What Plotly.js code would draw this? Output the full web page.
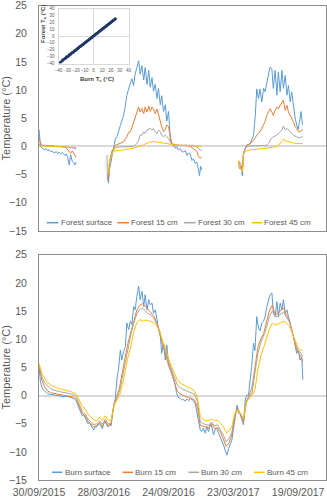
<!DOCTYPE html>
<html><head><meta charset="utf-8">
<script src="https://cdn.plot.ly/plotly-3.0.1.min.js"></script>
<style>html,body{margin:0;padding:0;background:#fff}#chart{width:327px;height:500px}</style>
</head><body><div id="chart"></div>
<script>
// ---------- DATA (days since 30/09/2015) ----------
const tickDates = ['2015-09-30','2016-03-28','2016-09-24','2017-03-23','2017-09-19'];
const tickLabels = ['30/09/2015','28/03/2016','24/09/2016','23/03/2017','19/09/2017'];

// Forest (top panel); null = logger gap
const forestSurfaceDays = [0,2,4,8,12,16,20,24,28,32,36,40,44,48,52,56,60,64,68,72,76,80,84,88,92,96,100,103,150,
 190,193,196,199,203,207,212,217,221,226,230,235,240,244,249,254,258,263,267,272,277,281,286,291,295,300,305,309,314,318,323,328,332,337,341,346,351,355,360,365,369,374,378,383,387,392,397,402,406,411,415,420,425,429,434,439,443,446,449,452,500,
 554,558,561,565,568,572,577,582,587,591,596,601,605,610,614,619,624,628,633,638,642,647,651,656,661,665,670,675,679,684,689,693,698,702,707,712,716,720,724,728,732];
const forestSurfaceVals = [3.0,1.0,0.0,-0.3,-0.4,-0.6,-0.4,-0.7,-0.6,-0.9,-0.8,-1.1,-1.1,-0.9,-1.3,-1.0,-1.3,-1.1,-1.3,-1.6,-1.3,-2.0,-3.3,-1.5,-2.6,-2.8,-3.3,-2.8,null,
 -5.0,-6.5,-4.0,-3.0,-1.0,0.2,1.3,1.8,2.5,3.7,4.5,5.5,7.3,9.0,10.2,11.0,12.0,10.8,12.8,14.0,15.2,12.8,14.3,11.8,14.0,11.0,13.5,10.5,12.2,9.8,11.0,8.5,10.3,7.4,9.0,6.2,7.4,4.5,6.2,1.3,0.5,0.2,-0.3,-0.1,-0.6,-0.4,-0.9,-1.0,-0.7,-1.6,-1.2,-1.3,-2.5,-2.2,-3.0,-2.8,-4.0,-5.2,-3.5,-4.2,null,
 -3.0,-4.0,-3.5,-5.2,-1.5,-0.5,0.2,0.3,0.5,1.2,2.0,5.5,10.2,8.5,10.2,7.9,10.3,9.7,11.4,13.2,14.1,13.8,10.3,13.5,9.1,13.2,9.7,13.5,10.3,12.6,9.1,10.8,7.9,9.7,6.7,4.9,3.8,3.0,4.5,6.2,3.8];

const forest15Days = [0,3,6,12,30,60,72,76,80,84,88,92,96,100,103,150,
 190,193,196,203,212,226,235,244,249,254,258,263,267,272,277,281,286,291,295,300,305,309,314,318,323,328,332,337,341,346,351,355,360,365,369,378,392,411,420,429,439,443,448,452,500,
 554,558,561,565,568,572,577,587,596,605,614,619,624,628,633,638,642,647,651,656,661,665,670,675,679,684,689,693,698,702,707,712,716,721,725,730,733];
const forest15Vals = [1.5,0.8,0.3,0.2,0.1,0.0,-0.1,-0.3,-0.6,-0.9,-1.2,-0.8,-1.2,-1.8,-1.9,null,
 -5.5,-5.8,-3.0,-1.0,0.2,0.5,0.8,1.7,2.5,2.6,3.4,4.3,5.2,6.1,7.0,6.1,6.7,5.8,7.0,6.1,7.2,6.2,7.0,6.6,5.8,6.6,5.5,4.3,3.5,2.6,3.0,3.8,3.5,1.7,0.5,0.3,0.2,0.2,0.0,-0.4,-0.9,-1.8,-2.1,-1.8,null,
 -2.5,-3.0,-3.2,-4.3,-1.5,-0.5,0.2,0.5,1.1,2.0,2.6,3.2,3.8,4.4,5.5,6.1,6.7,6.1,5.5,6.4,7.0,6.7,7.3,7.9,8.2,6.4,7.3,6.1,5.5,4.9,4.35,3.5,3.2,2.6,2.6,2.9,2.9];

const forest30Days = [0,4,20,60,80,95,103,150,
 189,190,193,196,203,217,263,272,277,281,286,291,295,300,309,314,318,323,328,332,337,341,346,351,355,360,365,369,383,430,439,448,452,500,
 554,558,565,568,572,577,587,633,638,642,647,651,661,670,675,679,684,689,698,707,716,725,733];
const forest30Vals = [0.5,0.2,0.1,0.0,-0.1,-0.3,-0.4,null,
 -1.5,-6.0,-5.0,-2.5,-0.7,-0.1,0.0,0.5,1.1,2.0,2.0,2.6,2.3,2.9,3.2,2.9,3.2,2.6,2.3,2.9,2.6,2.0,1.7,2.0,1.7,1.4,0.8,0.3,0.2,0.2,-0.1,-0.7,-0.6,null,
 -2.8,-3.5,-4.2,-1.2,-0.5,0.0,0.1,0.2,0.5,1.1,1.5,1.7,2.0,2.6,2.9,3.6,2.9,3.2,2.6,2.0,1.7,1.5,1.8];

const forest45Days = [0,4,40,80,103,150,
 190,193,196,203,207,226,263,291,305,318,328,337,346,365,383,430,452,500,
 554,558,565,568,572,587,633,661,670,679,684,693,702,716,733];
const forest45Vals = [0.2,0.1,0.0,-0.1,-0.2,null,
 -4.5,-4.8,-2.5,-1.2,-0.8,-0.7,-0.3,0.3,0.7,0.9,0.8,0.7,0.5,0.3,0.2,0.1,0.0,null,
 -2.8,-3.8,-4.5,-1.2,-0.9,-0.6,-0.3,0.0,0.5,1.3,1.0,0.9,0.7,0.5,0.5];

// Burn (bottom panel)
const burnSurfaceDays = [0,4,8,12,16,20,24,32,40,48,56,64,72,80,88,96,104,108,112,116,120,124,128,132,136,140,144,148,152,156,160,164,168,172,176,180,184,188,192,196,200,204,208,212,
 217,221,226,230,235,240,244,249,254,258,263,267,272,277,281,286,291,295,300,305,309,314,318,323,328,332,337,341,346,351,355,360,365,369,374,378,382,386,
 392,397,402,406,411,416,420,425,429,434,439,443,448,452,457,462,466,471,476,480,485,489,494,499,503,508,513,517,522,527,531,536,540,545,550,554,559,564,568,573,577,582,
 587,591,596,600,605,610,614,619,624,628,633,638,642,647,651,656,661,665,670,675,679,684,689,693,698,702,707,712,716,721,725,730,733];
const burnSurfaceVals = [5.0,2.5,1.5,1.0,0.8,0.5,0.3,0.2,0.1,0.0,-0.1,-0.1,-0.2,-0.2,-0.3,-0.5,-1.0,-1.8,-2.6,-3.0,-3.6,-3.4,-3.9,-4.6,-5.0,-4.8,-5.3,-5.6,-6.1,-5.6,-5.6,-5.2,-5.0,-5.4,-5.9,-5.0,-4.6,-5.2,-5.6,-5.0,-5.4,-3.5,-1.5,-0.5,
 3.1,4.6,8.1,6.3,7.8,8.7,12.9,11.7,13.2,12.6,15.8,15.2,17.6,19.4,17.0,18.5,15.8,17.9,15.2,17.0,16.1,16.4,14.6,15.2,13.5,11.7,10.5,7.5,9.3,6.3,9.0,5.7,4.6,3.7,3.0,2.0,0.5,-0.3,
 -0.5,-0.8,-0.7,-1.0,-0.6,-0.9,-0.5,-0.8,-0.9,-1.4,-3.1,-4.9,-6.1,-6.4,-5.8,-6.7,-5.5,-6.4,-4.9,-5.5,-7.0,-6.1,-5.8,-6.7,-7.3,-7.9,-8.8,-9.7,-10.6,-9.4,-8.8,-7.9,-6.1,-3.7,-1.7,-3.1,-3.4,-4.3,-5.2,-0.8,0.0,0.1,
 2.8,5.2,9.3,8.0,14.0,12.0,11.5,12.9,13.2,14.0,15.8,17.0,17.9,18.2,14.9,14.0,16.7,14.0,16.4,15.2,17.0,14.6,15.2,14.0,12.9,12.0,10.5,8.7,7.5,8.1,6.3,6.9,2.8];

const burnDays = [0,8,16,24,32,40,48,56,64,72,80,88,96,104,112,120,128,136,144,152,160,168,176,184,192,200,208,216,224,232,240,248,256,264,272,280,288,296,304,312,320,328,336,344,352,360,368,376,384,392,400,408,416,424,432,440,448,456,464,472,480,488,496,504,512,520,528,536,544,552,560,568,576,584,592,600,608,616,624,632,640,648,656,664,672,680,688,696,704,712,720,728,732];
const burn15Vals = [5.3,2.7,1.5,0.8,0.5,0.4,0.3,0.2,0.1,0.0,-0.1,-0.2,-0.3,-0.7,-2.0,-3.2,-3.5,-4.6,-5.0,-5.6,-5.3,-4.8,-5.5,-4.5,-5.4,-5.2,-1.5,-0.3,1.5,4.5,7.0,9.5,11.5,13.5,15.2,16.0,16.3,15.8,15.2,14.8,14.0,12.8,11.2,8.8,7.3,5.3,4.2,2.5,0.8,0.3,0.0,-0.2,-0.4,-0.5,-0.8,-2.0,-5.3,-5.4,-5.6,-5.8,-5.0,-5.9,-5.7,-6.5,-7.8,-9.0,-8.4,-7.0,-3.6,-2.3,-3.3,-4.8,-1.0,0.0,1.5,5.5,8.5,10.0,11.0,13.0,15.0,16.0,14.5,14.5,15.2,15.5,14.2,13.3,11.0,9.0,7.5,7.0,6.0];
const burn30Vals = [5.5,3.3,2.2,1.6,1.2,1.0,0.8,0.7,0.6,0.5,0.4,0.3,0.2,-0.3,-1.5,-2.8,-3.2,-4.2,-4.6,-5.2,-5.0,-4.5,-5.1,-4.2,-5.0,-4.9,-1.6,-0.6,0.8,3.5,6.3,8.8,11.0,13.0,14.5,15.3,15.5,15.0,14.5,14.2,13.6,12.6,11.3,9.2,7.8,6.0,4.8,3.3,1.9,1.4,1.1,0.9,0.7,0.5,0.2,-1.0,-4.6,-5.0,-5.1,-5.3,-4.7,-5.4,-5.2,-6.0,-7.0,-8.2,-7.6,-6.5,-3.4,-2.4,-3.3,-4.5,-1.2,-0.3,0.5,4.0,7.5,9.3,10.5,12.0,14.0,15.0,14.0,14.0,14.5,14.8,13.8,13.0,11.2,9.3,8.0,7.5,7.0];
const burn45Vals = [5.7,3.9,3.0,2.3,1.9,1.6,1.4,1.2,1.1,1.0,0.9,0.7,0.5,0.2,-0.8,-2.0,-2.3,-3.3,-3.8,-4.3,-4.5,-3.8,-4.4,-3.6,-4.3,-4.5,-1.8,-1.0,0.0,2.0,4.8,7.0,9.0,11.5,12.9,13.5,13.2,13.4,13.3,13.1,12.9,12.3,11.2,9.6,8.3,6.5,5.2,4.0,2.8,2.2,1.9,1.6,1.4,1.2,0.8,-0.3,-3.7,-4.2,-4.5,-4.4,-4.2,-4.5,-4.4,-4.9,-5.5,-6.6,-6.3,-5.5,-3.2,-2.5,-3.2,-4.0,-1.3,-0.5,0.0,1.0,4.5,7.0,8.5,10.0,11.8,12.8,12.5,12.7,13.0,13.2,12.8,12.3,11.0,9.7,8.5,8.0,8.0];

// Inset: Burn Ts vs Forest Ts (°C)
const insetBurnTs = [-38,-36,-35,-33,-32,-31,-30,-29,-28,-27,-26,-25,-24,-23,-22,-21,-20,-19,-18,-17,-16,-15,-14,-13,-12,-11,-10,-9,-8,-7,-6,-5,-4,-3,-2,-1,0,1,2,3,4,5,6,7,8,9,10,11,12,13,14,15,16,17,18,19,20,21,22,23,24,25];
const insetForestTs = [-38.5,-36.4,-34.6,-33.2,-32.4,-30.6,-30.2,-29.3,-27.7,-27.2,-26.3,-24.8,-24.1,-23.3,-21.8,-21.2,-20.3,-18.9,-18.2,-17.1,-15.8,-15.2,-14.1,-12.9,-12.2,-11.1,-9.9,-9.2,-8.1,-6.9,-6.1,-5.0,-4.1,-3.0,-2.1,-0.9,0.1,1.0,1.9,3.1,4.0,4.9,6.1,7.0,7.9,9.1,10.0,10.9,12.1,13.0,13.9,15.1,16.0,16.9,18.1,19.0,19.9,21.1,22.0,22.9,24.0,25.1];
const insetTicks = [-40,-30,-20,-10,0,10,20,30,40];

const forestNames = ['Forest surface','Forest 15 cm','Forest 30 cm','Forest 45 cm'];
const burnNames = ['Burn surface','Burn 15 cm','Burn 30 cm','Burn 45 cm'];
const colors = ['#5b9bd5','#ed7d31','#a5a5a5','#ffc000'];

// ---------- BUILD ----------
const W = 327, H = 500;
const px = v => v / W, py = v => 1 - v / H;
function toDate(d){ return new Date(Date.UTC(2015,8,30) + d*86400000).toISOString().slice(0,10); }
const FONT = 'Liberation Sans, Arial, sans-serif';
const TXT = '#595959';
const FRAME = '#8c8c8c';

const forestX = [forestSurfaceDays, forest15Days, forest30Days, forest45Days];
const forestY = [forestSurfaceVals, forest15Vals, forest30Vals, forest45Vals];
const burnX = [burnSurfaceDays, burnDays, burnDays, burnDays];
const burnY = [burnSurfaceVals, burn15Vals, burn30Vals, burn45Vals];

const traces = [];
for (let i = 0; i < 4; i++) {
  traces.push({type:'scatter', mode:'lines', name:forestNames[i], x:forestX[i].map(toDate), y:forestY[i],
    xaxis:'x2', yaxis:'y2', line:{color:colors[i], width:1}, connectgaps:false, showlegend:false, hoverinfo:'skip'});
}
for (let i = 0; i < 4; i++) {
  traces.push({type:'scatter', mode:'lines', name:burnNames[i], x:burnX[i].map(toDate), y:burnY[i],
    xaxis:'x', yaxis:'y', line:{color:colors[i], width:1}, showlegend:false, hoverinfo:'skip'});
}
traces.push({type:'scatter', mode:'lines+markers', name:'Forest vs Burn Ts', x:insetBurnTs, y:insetForestTs, xaxis:'x3', yaxis:'y3',
  line:{color:'#203864', width:2}, marker:{color:'#203864', size:3}, showlegend:false, hoverinfo:'skip'});

const xRange = ['2015-09-30', '2017-12-04'];
const mainX = [px(39), px(325.5)];
function mainY(dom){ return {domain:dom, range:[-15,25], tickvals:[-15,-10,-5,0,5,10,15,20,25], showgrid:false,
  zeroline:true, zerolinecolor:'#d9d9d9', zerolinewidth:2, showline:true, mirror:true, linecolor:FRAME, linewidth:1,
  ticks:'', tickfont:{family:FONT, size:10.5, color:TXT}, ticklabelstandoff:9, ticklabeloverflow:'allow', automargin:false, fixedrange:true,
  title:{text:'Temperature (°C)', font:{family:FONT, size:11, color:TXT}, standoff:3}}; }
function insetAxis(extra){ return Object.assign({range:[-40,40], tickvals:insetTicks, tickangle:0, showgrid:false, zeroline:true,
  zerolinecolor:'#d9d9d9', zerolinewidth:1, showline:true, mirror:true, linecolor:'#d9d9d9', linewidth:1, ticks:'',
  tickfont:{family:FONT, size:4.5, color:TXT}, ticklabelstandoff:2, ticklabeloverflow:'allow', automargin:false, fixedrange:true}, extra); }

// legend (drawn as shapes + text)
const legendTop = {y:222.7, lines:[[46.7,58.3],[117.3,129],[184,195.7],[251.7,262.3]], text:[58.5,129,195.5,262.3]};
const legendBot = {y:472.3, lines:[[52,62.5],[122.5,133],[188.5,199],[254,264.5]], text:[62.5,133,199,264.5]};
const shapes = [], annotations = [];
function addLegend(L, names){
  for (let i = 0; i < 4; i++) {
    shapes.push({type:'line', xref:'paper', yref:'paper', x0:px(L.lines[i][0]), x1:px(L.lines[i][1]), y0:py(L.y), y1:py(L.y), line:{color:colors[i], width:1.5}});
    annotations.push({xref:'paper', yref:'paper', x:px(L.text[i]), y:py(L.y), xanchor:'left', yanchor:'middle', showarrow:false,
      text:names[i], font:{family:FONT, size:8, color:TXT}});
  }
}
addLegend(legendTop, forestNames);
addLegend(legendBot, burnNames);
annotations.push({xref:'paper', yref:'paper', x:px(96.5), y:py(79), xanchor:'center', yanchor:'middle', showarrow:false,
  text:'<b>Burn T<sub>s</sub> (°C)</b>', font:{family:FONT, size:6, color:'#404040'}});
annotations.push({xref:'paper', yref:'paper', x:px(43), y:py(24), xanchor:'center', yanchor:'middle', showarrow:false, textangle:-90,
  text:'<b>Forest T<sub>s</sub> (°C)</b>', font:{family:FONT, size:6, color:'#404040'}});

const layout = {
  width:W, height:H, margin:{l:0, r:0, t:0, b:0}, paper_bgcolor:'#fff', plot_bgcolor:'rgba(0,0,0,0)',
  showlegend:false, font:{family:FONT, color:TXT},
  xaxis:{domain:mainX, anchor:'y', type:'date', range:xRange, tickvals:tickDates, ticktext:tickLabels, tickangle:0, showgrid:false,
    zeroline:false, showline:true, mirror:true, linecolor:FRAME, linewidth:1, ticks:'', tickfont:{family:FONT, size:10.5, color:TXT},
    ticklabelstandoff:2, ticklabeloverflow:'allow', automargin:false, fixedrange:true},
  yaxis:mainY([py(480), py(254.7)]),
  xaxis2:{domain:mainX, anchor:'y2', type:'date', range:xRange, showticklabels:false, showgrid:false, zeroline:false,
    showline:true, mirror:true, linecolor:FRAME, linewidth:1, ticks:'', automargin:false, fixedrange:true},
  yaxis2:mainY([py(231), py(5.5)]),
  xaxis3:insetAxis({domain:[px(58.5), px(128.5)], anchor:'y3'}),
  yaxis3:insetAxis({domain:[py(63.5), py(8.5)], anchor:'x3'}),
  shapes:shapes, annotations:annotations
};
Plotly.newPlot('chart', traces, layout, {staticPlot:true, displayModeBar:false});
</script></body></html>
